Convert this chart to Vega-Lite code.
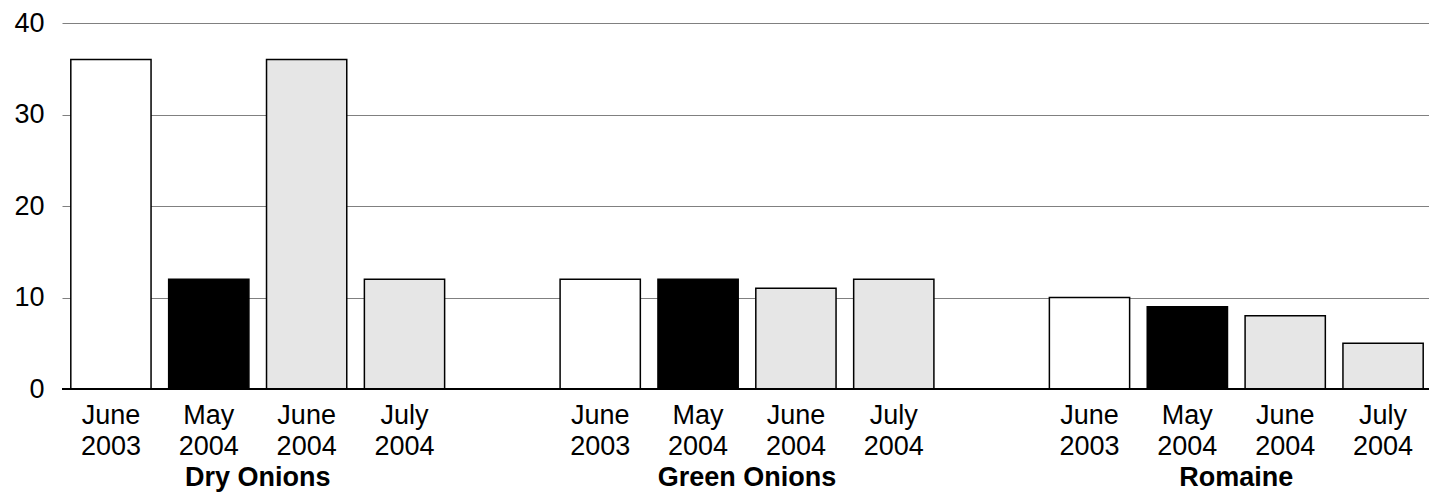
{
  "$schema": "https://vega.github.io/schema/vega-lite/v6.json",
  "width": 1370,
  "height": 366,
  "autosize": "none",
  "padding": {"left": 62, "top": 23, "right": 0, "bottom": 107},
  "background": "white",
  "config": {
    "view": {"stroke": null},
    "font": "Liberation Sans",
    "axis": {"labelFont": "Liberation Sans", "labelColor": "black"}
  },
  "data": {
    "values": [
      {"slot": "Dry Onions|June 2003", "group": "Dry Onions", "period": "June 2003", "value": 36},
      {"slot": "Dry Onions|May 2004", "group": "Dry Onions", "period": "May 2004", "value": 12},
      {"slot": "Dry Onions|June 2004", "group": "Dry Onions", "period": "June 2004", "value": 36},
      {"slot": "Dry Onions|July 2004", "group": "Dry Onions", "period": "July 2004", "value": 12},
      {"slot": "Green Onions|June 2003", "group": "Green Onions", "period": "June 2003", "value": 12},
      {"slot": "Green Onions|May 2004", "group": "Green Onions", "period": "May 2004", "value": 12},
      {"slot": "Green Onions|June 2004", "group": "Green Onions", "period": "June 2004", "value": 11},
      {"slot": "Green Onions|July 2004", "group": "Green Onions", "period": "July 2004", "value": 12},
      {"slot": "Romaine|June 2003", "group": "Romaine", "period": "June 2003", "value": 10},
      {"slot": "Romaine|May 2004", "group": "Romaine", "period": "May 2004", "value": 9},
      {"slot": "Romaine|June 2004", "group": "Romaine", "period": "June 2004", "value": 8},
      {"slot": "Romaine|July 2004", "group": "Romaine", "period": "July 2004", "value": 5}
    ]
  },
  "layer": [
    {
      "mark": {"type": "bar", "stroke": "black", "strokeWidth": 1.5},
      "encoding": {
        "x": {
          "field": "slot",
          "type": "nominal",
          "scale": {
            "domain": [
              "Dry Onions|June 2003", "Dry Onions|May 2004", "Dry Onions|June 2004", "Dry Onions|July 2004",
              "gap1",
              "Green Onions|June 2003", "Green Onions|May 2004", "Green Onions|June 2004", "Green Onions|July 2004",
              "gap2",
              "Romaine|June 2003", "Romaine|May 2004", "Romaine|June 2004", "Romaine|July 2004"
            ],
            "paddingInner": 0.18,
            "paddingOuter": 0.09
          },
          "axis": {
            "title": null,
            "domain": false,
            "ticks": false,
            "labelAngle": 0,
            "labelFontSize": 27,
            "labelLineHeight": 31,
            "labelPadding": 13,
            "labelExpr": "indexof(datum.value, '|') < 0 ? '' : split(split(datum.value, '|')[1], ' ')"
          }
        },
        "y": {
          "field": "value",
          "type": "quantitative",
          "scale": {"domain": [0, 40]},
          "axis": {
            "title": null,
            "domain": false,
            "ticks": false,
            "values": [0, 10, 20, 30, 40],
            "labelFontSize": 27,
            "labelPadding": 18,
            "gridColor": "#808080",
            "gridWidth": 1.2,
            "gridOpacity": 1
          }
        },
        "fill": {
          "field": "period",
          "type": "nominal",
          "scale": {
            "domain": ["June 2003", "May 2004", "June 2004", "July 2004"],
            "range": ["#ffffff", "#000000", "#e6e6e6", "#e6e6e6"]
          },
          "legend": null
        }
      }
    },
    {
      "mark": {"type": "bar", "opacity": 0},
      "encoding": {
        "x": {
          "field": "group",
          "type": "nominal",
          "scale": {
            "domain": ["Dry Onions", "Green Onions", "Romaine"],
            "paddingInner": 0.2,
            "paddingOuter": 0
          },
          "axis": {
            "title": null,
            "orient": "bottom",
            "domain": false,
            "ticks": false,
            "grid": false,
            "labelAngle": 0,
            "labelFontSize": 27,
            "labelFontWeight": "bold",
            "labelPadding": 13,
            "offset": 62
          }
        },
        "y": {"field": "value", "type": "quantitative"}
      }
    },
    {
      "mark": {"type": "rule", "color": "black", "strokeWidth": 1.5},
      "encoding": {"y": {"datum": 0}}
    }
  ],
  "resolve": {"scale": {"x": "independent"}}
}
